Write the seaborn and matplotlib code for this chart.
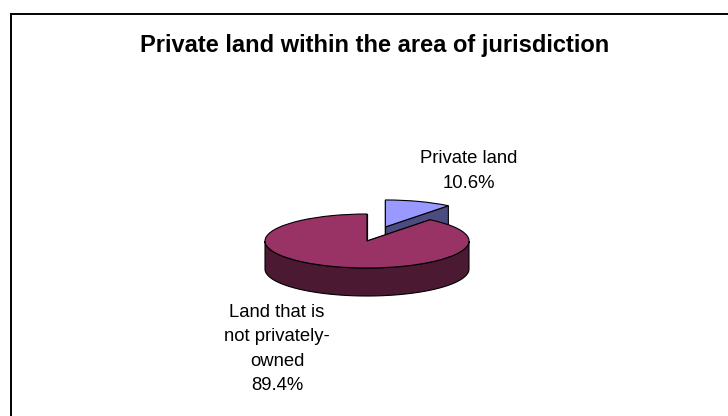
import numpy as np
import matplotlib
matplotlib.use("Agg")
import matplotlib.pyplot as plt
from matplotlib.patches import Polygon, Rectangle
import seaborn as sns

# Land share within the area of jurisdiction (percent)
categories = ["Private land", "Land that is\nnot privately-\nowned"]
shares = [10.6, 89.4]
top_colors = ["#9999FF", "#993366"]
side_colors = ["#4C4C80", "#4C1933"]
explode = [0.55, 0.0]

sns.set_theme(style="white")
plt.rcParams["font.family"] = ["Liberation Sans", "DejaVu Sans"]
plt.rcParams["text.color"] = "black"

W, H = 728, 416
fig = plt.figure(figsize=(W / 100, H / 100), dpi=100)
fig.patch.set_facecolor("white")

# Chart frame (open on the right/bottom edges of the canvas)
fig.add_artist(Rectangle((10.5 / W, -0.1), 1.2, (H - 13.5) / H + 0.1,
                         transform=fig.transFigure, fill=False,
                         edgecolor="black", linewidth=1.4))

fig.text(375 / W, 1 - 52 / H, "Private land within the area of jurisdiction",
         ha="center", va="baseline", fontsize=17, fontweight="bold")

# Pie axes: one data unit = 102 px across and 27 px down (tilted disc)
rx, ry = 102.0, 27.0
cx, cy = 367.0, 241.0
x0, x1 = -2.0, 2.0
y0, y1 = -2.5, 1.5
ax = fig.add_axes([(cx + x0 * rx) / W, (H - cy + y0 * ry) / H,
                   (x1 - x0) * rx / W, (y1 - y0) * ry / H])

wedges, _ = ax.pie(shares, colors=top_colors, startangle=90,
                   counterclock=False, explode=explode,
                   wedgeprops=dict(edgecolor="black", linewidth=0.8))
ax.set_aspect("auto")
ax.set_xlim(x0, x1)
ax.set_ylim(y0, y1)
ax.axis("off")

depth = 28.0 / ry
lw = 0.8

for i, (w, side) in enumerate(zip(wedges, side_colors)):
    base = 2 * i + 1
    c = np.array(w.center)
    r = w.r
    t1, t2 = w.theta1, w.theta2
    # radial cut faces
    for t in (t1, t2):
        p = c + r * np.array([np.cos(np.radians(t)), np.sin(np.radians(t))])
        quad = [c, p, p - [0, depth], c - [0, depth]]
        ax.add_patch(Polygon(quad, closed=True, facecolor=side,
                             edgecolor="black", linewidth=lw, zorder=base))
    # curved outer wall on the front half of the disc
    for k in range(-2, 2):
        a = max(t1, 180 + 360 * k)
        b = min(t2, 360 + 360 * k)
        if b > a:
            th = np.radians(np.linspace(a, b, 200))
            xs = c[0] + r * np.cos(th)
            ys = c[1] + r * np.sin(th)
            pts = np.concatenate([np.column_stack([xs, ys]),
                                  np.column_stack([xs[::-1], ys[::-1] - depth])])
            ax.add_patch(Polygon(pts, closed=True, facecolor=side,
                                 edgecolor="black", linewidth=lw,
                                 zorder=base + 0.3))
    w.set_zorder(base + 0.6)

# Category labels with percentages
fig.text(469 / W, 1 - 171 / H, f"{categories[0]}\n{shares[0]:.1f}%",
         ha="center", va="center", fontsize=13.3, linespacing=1.55)
fig.text(277 / W, 1 - 349 / H, f"{categories[1]}\n{shares[1]:.1f}%",
         ha="center", va="center", fontsize=13.3, linespacing=1.55)

fig.savefig("out.png", dpi=100, facecolor="white")
